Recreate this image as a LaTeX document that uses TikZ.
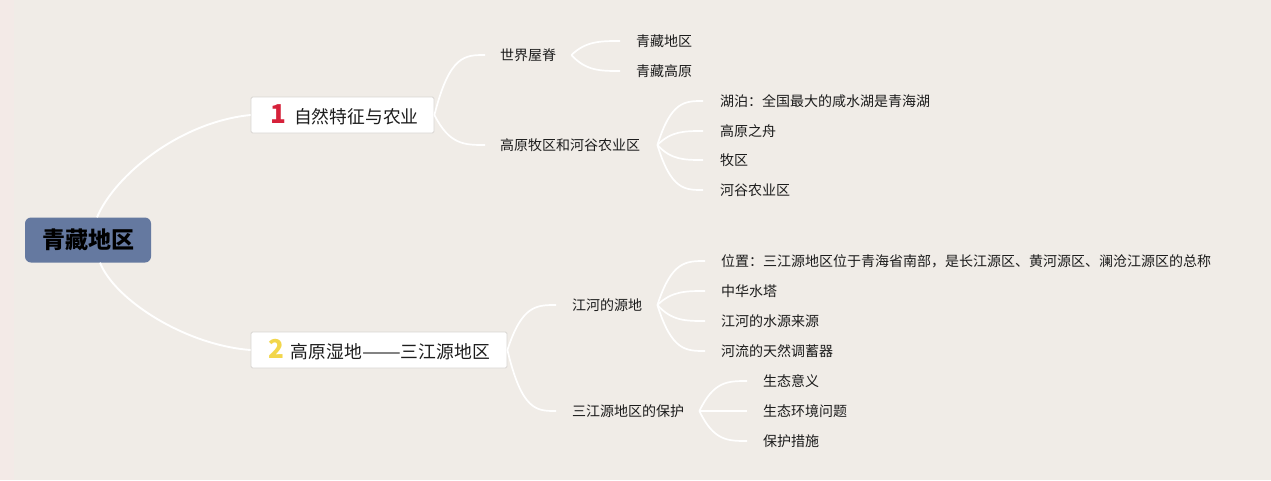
\documentclass[tikz,border=0pt]{standalone}
\usepackage{fontspec}
\setmainfont{Noto Sans CJK SC}
\usetikzlibrary{calc}
\definecolor{bg}{HTML}{F0ECE7}
\definecolor{strip}{HTML}{F3EAE7}
\definecolor{rootfill}{HTML}{6579A0}
\definecolor{boxline}{HTML}{D9D6D3}
\definecolor{numred}{HTML}{D6213A}
\definecolor{numyellow}{HTML}{F2D64B}
\definecolor{txt}{HTML}{1C1C1C}
\tikzset{
  br/.style={draw=white, line width=1.7pt},
  rootbr/.style={draw=white, line width=1.9pt},
  rootnode/.style={fill=rootfill, rounded corners=6pt, minimum width=126pt, minimum height=45pt, inner sep=0pt, font=\fontsize{23}{26}\selectfont\bfseries, text=black},
  topicbox/.style={fill=white, draw=boxline, line width=0.8pt, rounded corners=1.5pt, minimum height=36pt, inner sep=0pt, font=\fontsize{17.8}{20}\selectfont, text=txt},
  leaf/.style={anchor=west, inner sep=0pt, font=\fontsize{14}{16}\selectfont, text=txt},
}
\newcommand\numtag[2]{{\color{#1}\fontsize{26}{27}\selectfont\bfseries #2}}
\newcommand\mmlink[2]{\draw[br] let \p1=(#1), \p2=(#2) in (\p1) .. controls ({\x1+0.3*(\x2-\x1)},\y2) and ({\x1+0.6*(\x2-\x1)},\y2) .. (\p2);}
\begin{document}
\begin{tikzpicture}[x=1pt,y=-1pt]
\fill[bg] (0,0) rectangle (1271,480);
\fill[strip] (0,0) rectangle (14,480);
\useasboundingbox (0,0) rectangle (1271,480);

% nodes
\node[rootnode] (root) at (88,240) {青藏地区};
\node[topicbox, minimum width=183pt] (n1) at (342.5,115) {\hspace{4pt}\numtag{numred}{1}\hspace{8pt}自然特征与农业};
\node[topicbox, minimum width=256pt] (n2) at (379,350) {\numtag{numyellow}{2}\hspace{7pt}高原湿地\scalebox{1.3}[1]{——}三江源地区};

\node[leaf] (b1) at (500,55) {世界屋脊};
\node[leaf] (b2) at (500,145) {高原牧区和河谷农业区};
\node[leaf] (c1) at (572,305) {江河的源地};
\node[leaf] (c2) at (572,411) {三江源地区的保护};

\node[leaf] (l11) at (636,41) {青藏地区};
\node[leaf] (l12) at (636,71) {青藏高原};

\node[leaf] (l21) at (720,101) {湖泊：全国最大的咸水湖是青海湖};
\node[leaf] (l22) at (720,131) {高原之舟};
\node[leaf] (l23) at (720,160) {牧区};
\node[leaf] (l24) at (720,190) {河谷农业区};

\node[leaf] (m1) at (721,261) {位置：三江源地区位于青海省南部，是长江源区、黄河源区、澜沧江源区的总称};
\node[leaf] (m2) at (721,291) {中华水塔};
\node[leaf] (m3) at (721,321) {江河的水源来源};
\node[leaf] (m4) at (721,351) {河流的天然调蓄器};

\node[leaf] (p1) at (763,381) {生态意义};
\node[leaf] (p2) at (763,411) {生态环境问题};
\node[leaf] (p3) at (763,441) {保护措施};

% root connectors
\draw[rootbr] ([xshift=9pt]root.north) .. controls (115,175) and (180,122) .. (n1.west);
\draw[rootbr] ([xshift=12pt]root.south) .. controls (115,300) and (185,345) .. (n2.west);

% level 2
\mmlink{n1.east}{[xshift=-15pt]b1.west}
\mmlink{n1.east}{[xshift=-15pt]b2.west}
\mmlink{n2.east}{[xshift=-16pt]c1.west}
\mmlink{n2.east}{[xshift=-16pt]c2.west}

% level 3
\mmlink{[xshift=15pt]b1.east}{[xshift=-16pt]l11.west}
\mmlink{[xshift=15pt]b1.east}{[xshift=-16pt]l12.west}
\foreach \t in {l21,l22,l23,l24}{\mmlink{[xshift=17pt]b2.east}{[xshift=-17pt]\t.west}}
\foreach \t in {m1,m2,m3,m4}{\mmlink{[xshift=15pt]c1.east}{[xshift=-16pt]\t.west}}
\foreach \t in {p1,p2,p3}{\mmlink{[xshift=15pt]c2.east}{[xshift=-16pt]\t.west}}
\end{tikzpicture}
\end{document}
